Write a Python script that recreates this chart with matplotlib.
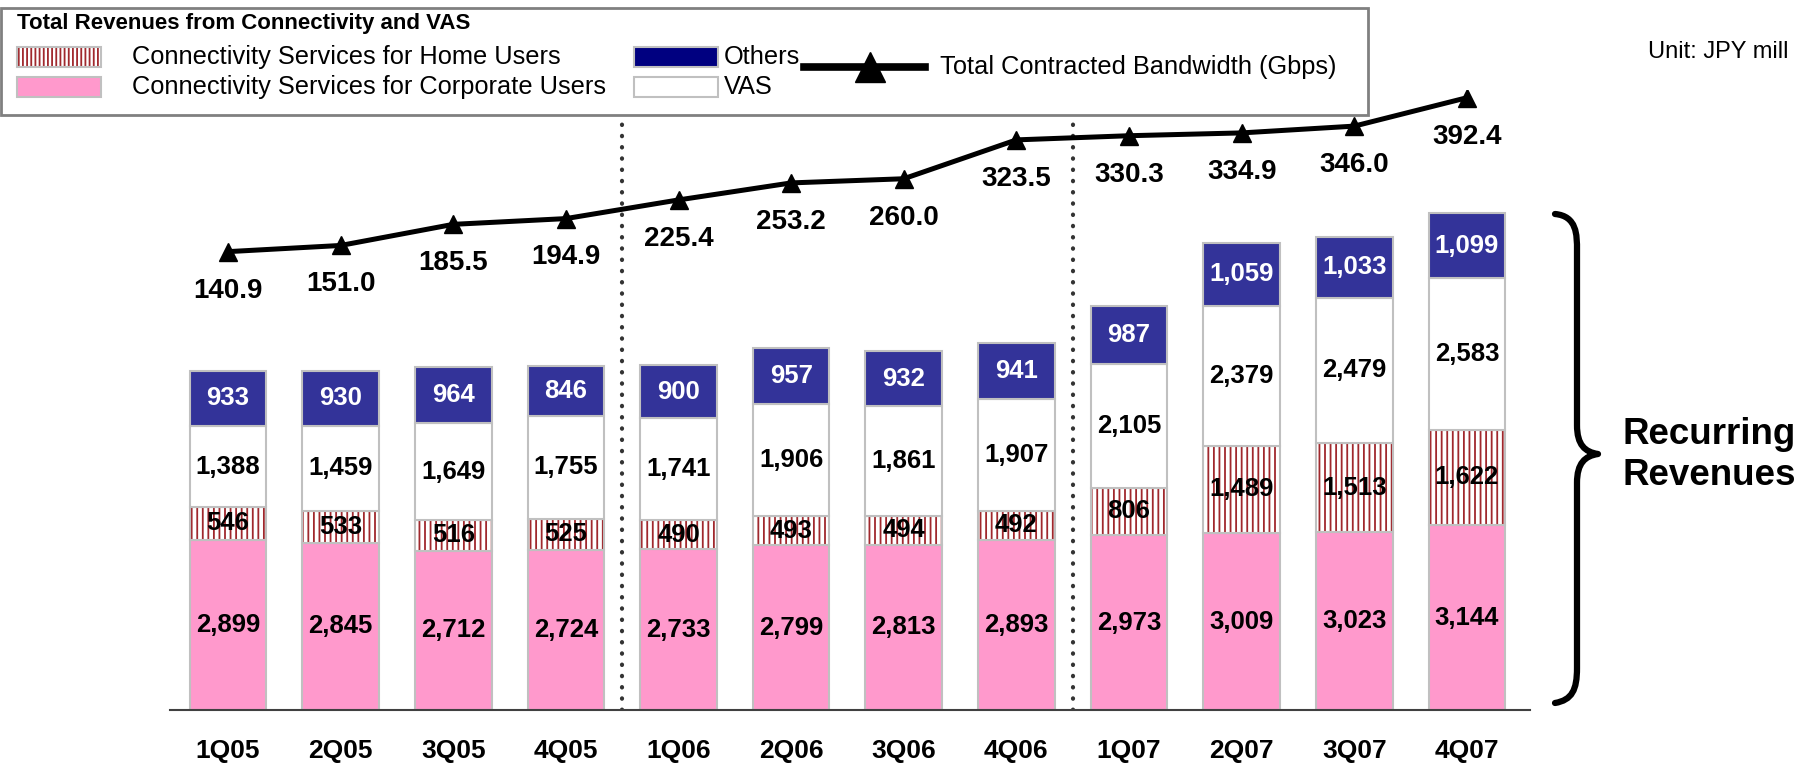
import numpy as np
import matplotlib
matplotlib.use('Agg')
import matplotlib.pyplot as plt
import matplotlib.transforms as mtransforms
from matplotlib.patches import Rectangle, PathPatch
from matplotlib.path import Path
from matplotlib.lines import Line2D

plt.rcParams['font.family'] = ['Liberation Sans', 'DejaVu Sans']
plt.rcParams['hatch.linewidth'] = 1.3

# data
quarters = ['1Q05', '2Q05', '3Q05', '4Q05', '1Q06', '2Q06', '3Q06', '4Q06',
            '1Q07', '2Q07', '3Q07', '4Q07']
corporate = np.array([2899, 2845, 2712, 2724, 2733, 2799, 2813, 2893, 2973, 3009, 3023, 3144])
home = np.array([546, 533, 516, 525, 490, 493, 494, 492, 806, 1489, 1513, 1622])
vas = np.array([1388, 1459, 1649, 1755, 1741, 1906, 1861, 1907, 2105, 2379, 2479, 2583])
others = np.array([933, 930, 964, 846, 900, 957, 932, 941, 987, 1059, 1033, 1099])
bandwidth = [140.9, 151.0, 185.5, 194.9, 225.4, 253.2, 260.0, 323.5, 330.3, 334.9, 346.0, 392.4]

PINK = '#FF99CC'
NAVY = '#333399'
HATCH_RED = '#A0282D'
EDGE = '#C0C0C0'

W, H = 1801, 764
fig = plt.figure(figsize=(W / 100, H / 100), dpi=100)
# pixel coords measured from top-left of the figure
px = mtransforms.Affine2D().scale(1 / W, -1 / H).translate(0, 1) + fig.transFigure

ax = fig.add_axes([170 / W, 54 / H, 1360 / W, 620 / H])
x = np.arange(len(quarters))
bw = 0.68

b_corp = ax.bar(x, corporate, bw, color=PINK, edgecolor=EDGE, lw=1.5)
b_home = ax.bar(x, home, bw, bottom=corporate, color='white', edgecolor=HATCH_RED,
                hatch='|||', lw=0)
ax.bar(x, home, bw, bottom=corporate, fill=False, edgecolor=EDGE, lw=1.5)
b_vas = ax.bar(x, vas, bw, bottom=corporate + home, color='white', edgecolor=EDGE, lw=1.5)
b_oth = ax.bar(x, others, bw, bottom=corporate + home + vas, color=NAVY, edgecolor=EDGE, lw=1.5)

for cont, col in [(b_corp, 'black'), (b_home, 'black'), (b_vas, 'black'), (b_oth, 'white')]:
    ax.bar_label(cont, fmt='{:,.0f}', label_type='center', color=col,
                 fontsize=18.5, fontweight='bold')

ax.set_xlim(-0.515, 11.56)
ax.set_ylim(0, 10544)
for s in ['top', 'left', 'right']:
    ax.spines[s].set_visible(False)
ax.spines['bottom'].set_color('#404040')
ax.spines['bottom'].set_linewidth(1.5)
ax.set_yticks([])
ax.set_xticks(x, quarters, fontsize=19, fontweight='bold')
ax.tick_params(axis='x', length=0, pad=21)

for xv in [3.5, 7.5]:
    ax.axvline(xv, ymin=0, ymax=0.96, color='#333333', lw=3,
               linestyle=(0, (0.1, 2.6)), dash_capstyle='round')

# bandwidth line on a second scale
ax2 = ax.twinx()
ax2.set_ylim(-608, 405)
ax2.axis('off')
ax2.plot(x, bandwidth, color='black', lw=3.6, marker='^', ms=13)
for xi, v in zip(x, bandwidth):
    ax2.annotate(f'{v:.1f}', (xi, v), xytext=(0, -28), textcoords='offset points',
                 ha='center', va='center', fontsize=20, fontweight='bold')

# legend box
fig.add_artist(Rectangle((1, 8), 1367, 107, transform=px, fill=False,
                         edgecolor='#808080', lw=2))
fig.text(17, 23, 'Total Revenues from Connectivity and VAS', transform=px,
         fontsize=16, fontweight='bold', va='center')

def legend_patch(x0, y0, **kw):
    fig.add_artist(Rectangle((x0, y0 - 10), 84, 20, transform=px, **kw))

legend_patch(17, 57, facecolor='white', edgecolor=HATCH_RED, hatch='||||', lw=0)
legend_patch(17, 57, fill=False, edgecolor=EDGE, lw=1.5)
legend_patch(17, 87, facecolor=PINK, edgecolor=EDGE, lw=1.5)
legend_patch(634, 57, facecolor='#000080', edgecolor=EDGE, lw=1.5)
legend_patch(634, 87, facecolor='white', edgecolor=EDGE, lw=1.5)
for tx, ty, t in [(132, 57, 'Connectivity Services for Home Users'),
                  (132, 87, 'Connectivity Services for Corporate Users'),
                  (724, 57, 'Others'), (724, 87, 'VAS'),
                  (940, 67, 'Total Contracted Bandwidth (Gbps)')]:
    fig.text(tx, ty, t, transform=px, fontsize=18.3, va='center')
fig.add_artist(Line2D([804, 925], [67, 67], transform=px, color='black', lw=5.5))
fig.add_artist(Line2D([870], [67], transform=px, color='black', marker='^', ms=21))

fig.text(1648, 52, 'Unit: JPY mill', transform=px, fontsize=17, va='center')

# brace
verts = [(1555, 214), (1577, 216), (1577, 235), (1577, 250),
         (1577, 425),
         (1577, 445), (1585, 452), (1598, 454),
         (1585, 456), (1577, 463), (1577, 483),
         (1577, 668),
         (1577, 690), (1572, 700), (1555, 703)]
codes = [Path.MOVETO, Path.CURVE4, Path.CURVE4, Path.CURVE4,
         Path.LINETO,
         Path.CURVE4, Path.CURVE4, Path.CURVE4,
         Path.CURVE4, Path.CURVE4, Path.CURVE4,
         Path.LINETO,
         Path.CURVE4, Path.CURVE4, Path.CURVE4]
fig.add_artist(PathPatch(Path(verts, codes), transform=px, fill=False, lw=4.5,
                         edgecolor='black', capstyle='round', joinstyle='round'))
fig.text(1622, 455, 'Recurring\nRevenues', transform=px, fontsize=26.5,
         fontweight='bold', va='center', ha='left', linespacing=1.2)

fig.savefig('out.png', dpi=100)
